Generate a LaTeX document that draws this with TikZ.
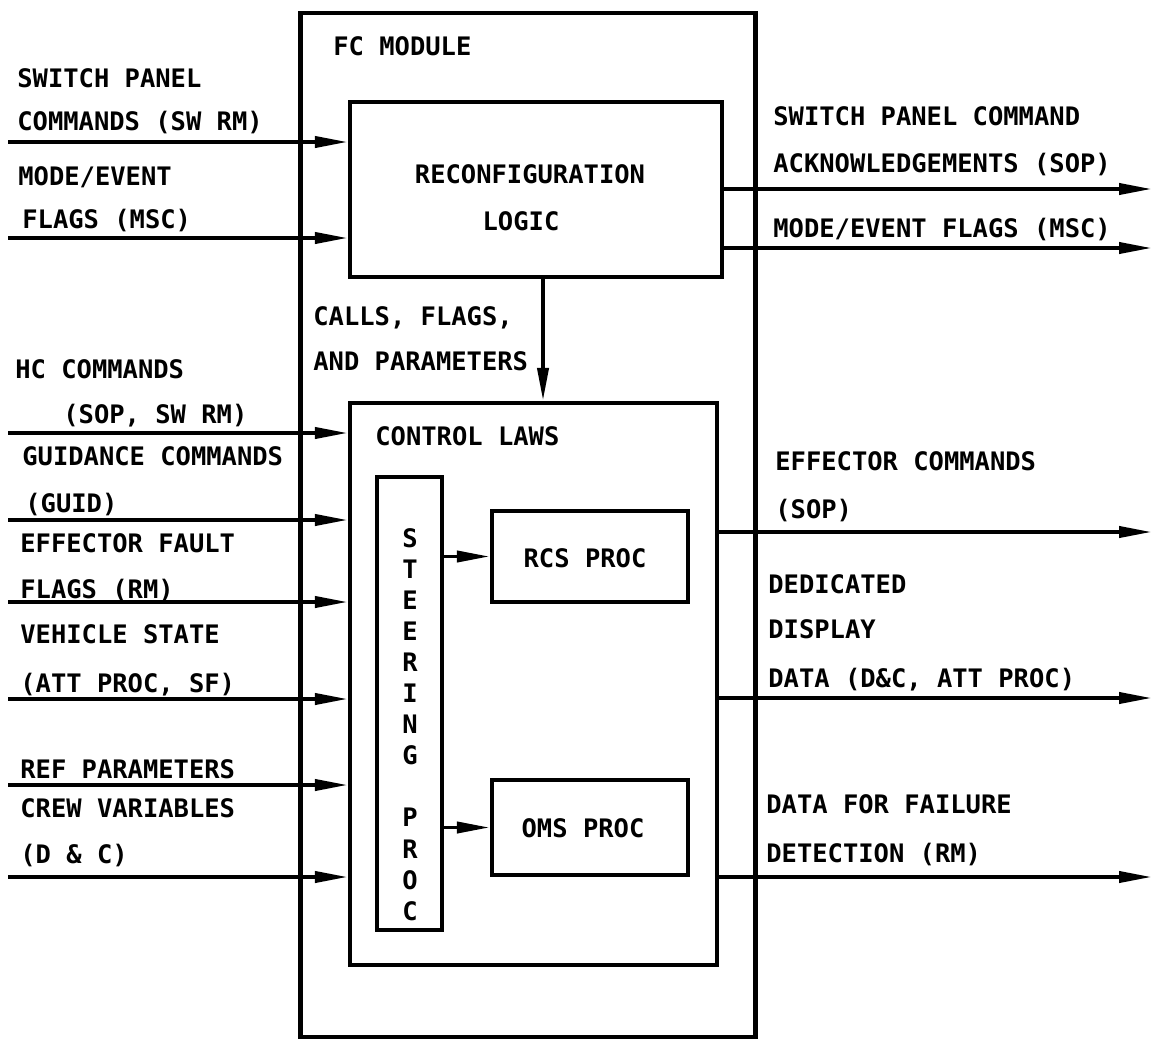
\documentclass[tikz,border=0pt]{standalone}
\usepackage{fontspec}
\newfontfamily\plotfont{DejaVu Sans Mono}
\usepackage{tikz}
\usetikzlibrary{arrows.meta}

\tikzset{
  blk/.style={draw, line width=2.4pt, inner sep=0pt},
  sig/.style={line width=2.2pt, -{Triangle[length=0.66cm, width=0.22cm]}},
  tag/.style={anchor=base west, inner sep=0pt, font=\plotfont\bfseries\fontsize{14.5}{17}\selectfont},
  ctag/.style={tag, anchor=base},
}

\begin{document}
\begin{tikzpicture}[x=0.02cm, y=-0.02cm]
  \useasboundingbox (0,0) rectangle (1153,1041);
  % boxes
  \node[blk, minimum width=9.1cm, minimum height=20.48cm] (fcmod) at (528,525) {};
  \node[blk, minimum width=7.44cm, minimum height=3.5cm] (reconf) at (536,189.5) {};
  \node[blk, minimum width=7.34cm, minimum height=11.24cm] (ctrl) at (533.5,684) {};
  \node[blk, minimum width=1.3cm, minimum height=9.06cm] (steer) at (409.5,703.5) {};
  \node[blk, minimum width=3.92cm, minimum height=1.82cm] (rcs) at (590,556.5) {};
  \node[blk, minimum width=3.92cm, minimum height=1.9cm] (oms) at (590,827.5) {};
  % box texts
  \node[tag] (fcname) at (333,55) {FC MODULE};
  \node[ctag] (recname1) at (530,183) {RECONFIGURATION};
  \node[ctag] (recname2) at (521,230) {LOGIC};
  \node[tag] (ctrlname) at (375,445) {CONTROL LAWS};
  \node[ctag] (rcsname) at (585,567) {RCS PROC};
  \node[ctag] (omsname) at (583,837) {OMS PROC};
  \foreach \ch/\k in {S/0,T/1,E/2,E/3,R/4,I/5,N/6,G/7,P/9,R/10,O/11,C/12}
    \node[ctag] (st\k) at (410,547+31.1*\k) {\ch};
  \node[tag] (calls1) at (313,325) {CALLS, FLAGS,};
  \node[tag] (calls2) at (313,370) {AND PARAMETERS};
  % inputs
  \foreach \y [count=\i] in {142,238} {
    \coordinate (rin\i) at (8,\y);
    \draw[sig] (rin\i) -- (rin\i -| reconf.west);
  }
  \foreach \y [count=\i] in {433,520,602,699,785,877} {
    \coordinate (cin\i) at (8,\y);
    \draw[sig] (cin\i) -- (cin\i -| ctrl.west);
  }
  % outputs
  \foreach \y [count=\i] in {189,248} {
    \coordinate (rout\i) at (1152,\y);
    \draw[sig] (rout\i -| reconf.east) -- (rout\i);
  }
  \foreach \y [count=\i] in {532,698,877} {
    \coordinate (cout\i) at (1152,\y);
    \draw[sig] (cout\i -| ctrl.east) -- (cout\i);
  }
  % inner flows
  \coordinate (callx) at (543,0);
  \draw[sig] (callx |- reconf.south) -- (callx |- ctrl.north);
  \draw[sig] (steer.east |- rcs.west) -- (rcs.west);
  \draw[sig] (steer.east |- oms.west) -- (oms.west);
  % left labels
  \node[tag] (l1a) at (17,87) {SWITCH PANEL};
  \node[tag] (l1b) at (17,130) {COMMANDS (SW RM)};
  \node[tag] (l2a) at (18,185) {MODE/EVENT};
  \node[tag] (l2b) at (22,228) {FLAGS (MSC)};
  \node[tag] (l3a) at (15,378) {HC COMMANDS};
  \node[tag] (l3b) at (63,423) {(SOP, SW RM)};
  \node[tag] (l4a) at (22,465) {GUIDANCE COMMANDS};
  \node[tag] (l4b) at (25,512) {(GUID)};
  \node[tag] (l5a) at (20,552) {EFFECTOR FAULT};
  \node[tag] (l5b) at (20,598) {FLAGS (RM)};
  \node[tag] (l6a) at (20,643) {VEHICLE STATE};
  \node[tag] (l6b) at (20,692) {(ATT PROC, SF)};
  \node[tag] (l7a) at (20,778) {REF PARAMETERS};
  \node[tag] (l7b) at (20,817) {CREW VARIABLES};
  \node[tag] (l7c) at (20,863) {(D \& C)};
  % right labels
  \node[tag] (r1a) at (773,125) {SWITCH PANEL COMMAND};
  \node[tag] (r1b) at (773,172) {ACKNOWLEDGEMENTS (SOP)};
  \node[tag] (r2a) at (773,237) {MODE/EVENT FLAGS (MSC)};
  \node[tag] (r3a) at (775,470) {EFFECTOR COMMANDS};
  \node[tag] (r3b) at (775,518) {(SOP)};
  \node[tag] (r4a) at (768,593) {DEDICATED};
  \node[tag] (r4b) at (768,638) {DISPLAY};
  \node[tag] (r4c) at (768,687) {DATA (D\&C, ATT PROC)};
  \node[tag] (r5a) at (766,813) {DATA FOR FAILURE};
  \node[tag] (r5b) at (766,862) {DETECTION (RM)};
\end{tikzpicture}
\end{document}
